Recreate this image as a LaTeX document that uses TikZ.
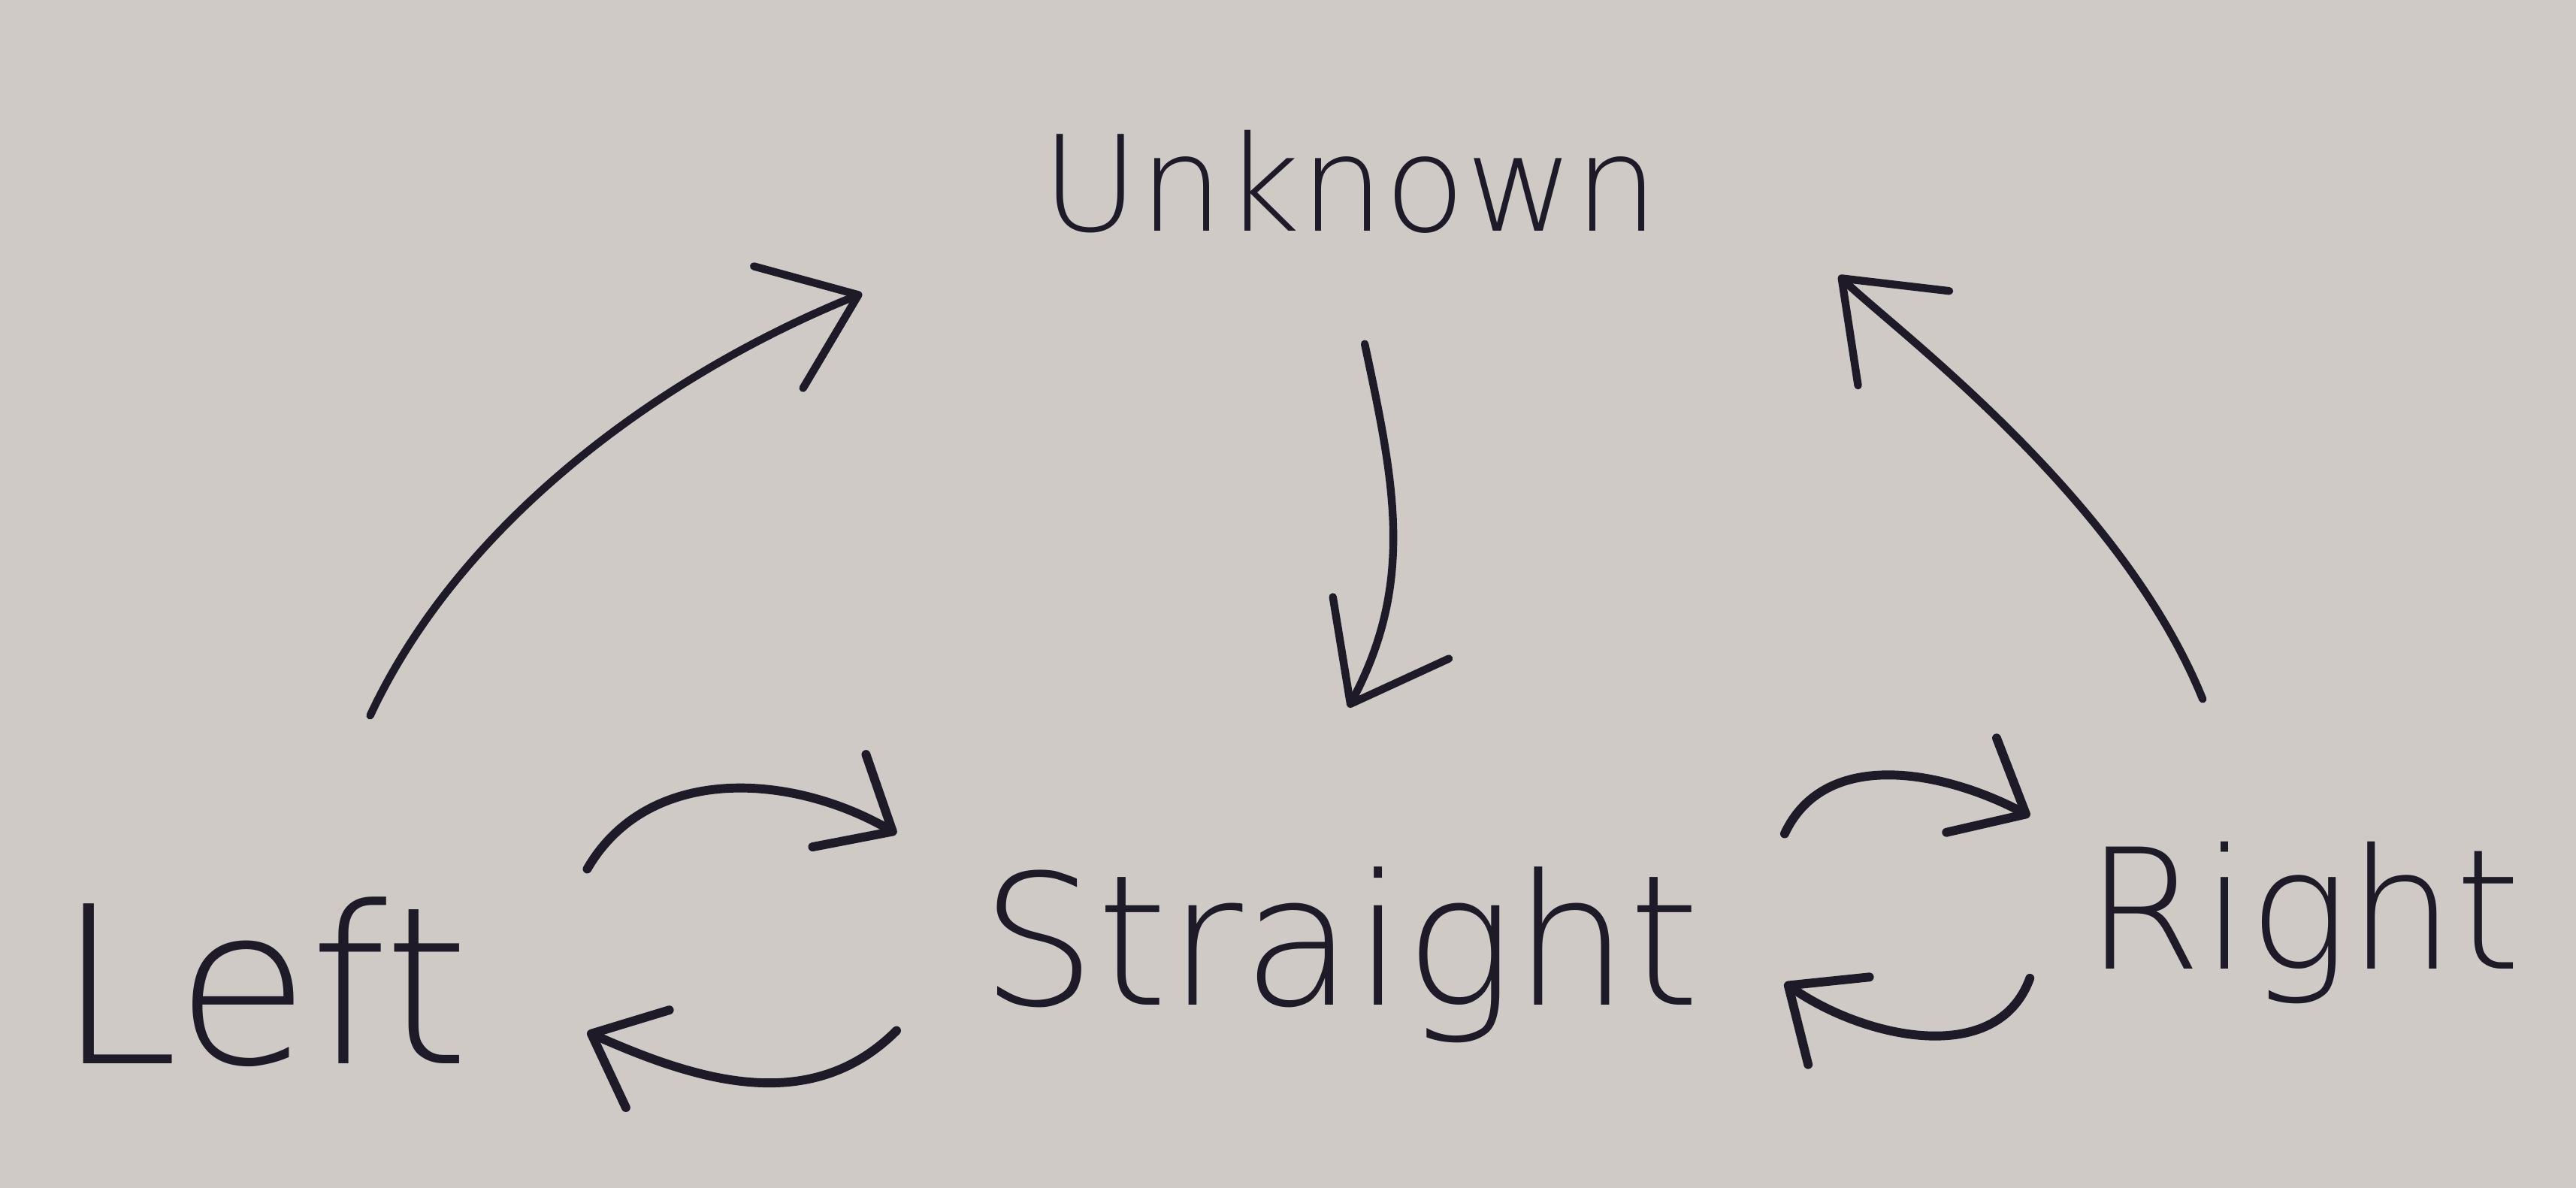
\documentclass[tikz,border=0pt]{standalone}
\usepackage{fontspec}
\setmainfont{DejaVu Sans ExtraLight}
\usetikzlibrary{arrows.meta, positioning}
\definecolor{paper}{RGB}{207,202,197}
\definecolor{ink}{RGB}{30,26,40}
\tikzset{
	>={Straight Barb[round, length=1.05cm, width=1.6cm]}, % big open heads, as drawn by hand
	flow/.style={->, draw=ink, line width=2.7pt, line cap=round, line join=round}, % long edges
	turn/.style={flow, line width=3.1pt, -{Straight Barb[round, length=0.75cm, width=1.3cm]}}, % the small swaps
	word/.style={text=ink, inner sep=0pt, text depth=0pt}, % a state is only its word
	node distance=9.2cm, % Unknown to Straight. Change if necessary.
}
\begin{document}
\begin{tikzpicture}[x=0.02cm, y=-0.02cm]
	\fill[paper] (0,0) rectangle (1568,723);
	\useasboundingbox (0,0) rectangle (1568,723);
			\node[word, minimum width=11.88cm, minimum height=3.96cm, font=\fontsize{46}{46}\selectfont] (unk) at (822,110) {Unknown};
			\node[word, minimum width=10.8cm, minimum height=5.56cm, font=\fontsize{63}{63}\selectfont, below of=unk, xshift=-0.12cm] (str) {Straight};
			\node[word, minimum width=7.88cm, minimum height=6.44cm, font=\fontsize{76}{76}\selectfont, node distance=13.12cm, left of=str, yshift=-0.54cm] (lft) {Left};
			\node[word, minimum width=6.64cm, minimum height=5cm, font=\fontsize{58}{58}\selectfont, node distance=11.72cm, right of=str, yshift=0.38cm] (rgt) {Right};
	\draw[flow] (lft.68) to[out=65, in=202, looseness=0.85] (unk.193);
	\draw[flow] (unk.-85) to[out=-78, in=62] (str.88);
	\draw[flow] (rgt.116) to[out=112, in=-44, out looseness=1, in looseness=0.35] (unk.-11);
	\draw[turn] (lft.19) to[out=60, in=150] (str.167);
	\draw[turn] (str.192) to[out=-135, in=-24] (lft.-9);
	\draw[turn] (str.13) to[out=65, in=152] (rgt.162);
	\draw[turn] (rgt.195) to[out=-110, in=-35] (str.-6);
\end{tikzpicture}
\end{document}
